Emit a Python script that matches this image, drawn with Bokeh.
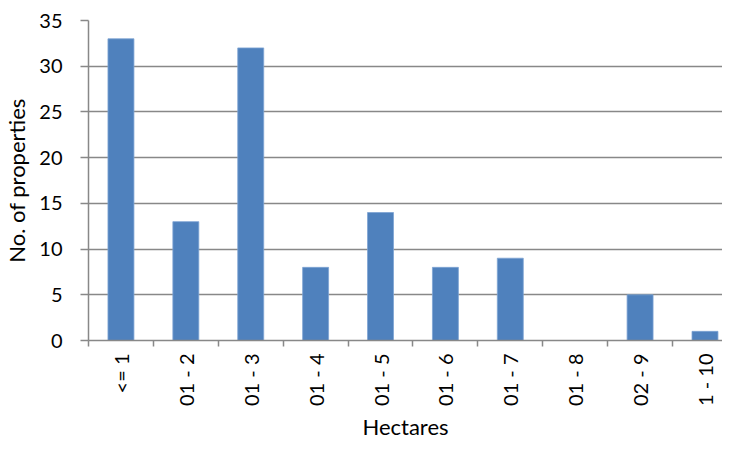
import math
from bokeh.plotting import figure
from bokeh.models import Range1d, FixedTicker, ColumnDataSource
from bokeh.embed import file_html
from bokeh.resources import INLINE

categories = ["<= 1", "01 - 2", "01 - 3", "01 - 4", "01 - 5", "01 - 6", "01 - 7", "01 - 8", "02 - 9", "1 - 10"]
values = [33, 13, 32, 8, 14, 8, 9, 0, 5, 1]
y_ticks = [0, 5, 10, 15, 20, 25, 30, 35]

FONT = "Lato"
GRID = "#888888"

positions = [i + 0.5 for i in range(len(categories))]
src = ColumnDataSource(dict(x=positions, top=values, cat=categories))

p = figure(width=722, height=442, output_backend="svg", toolbar_location=None,
           x_range=Range1d(0, 9.77), y_range=Range1d(0, 35),
           min_border_left=79, min_border_right=0, min_border_top=20, min_border_bottom=93)
p.outline_line_color = None
p.background_fill_color = "white"

p.vbar(x="x", top="top", width=0.4, source=src, fill_color="#4F81BD", line_color="#7EA3D3", line_width=0.8)

# x axis
p.xaxis.ticker = FixedTicker(ticks=positions, minor_ticks=list(range(len(categories) + 1)))
p.xaxis.major_label_overrides = {pos: c for pos, c in zip(positions, categories)}
p.xaxis.major_label_orientation = math.pi / 2
p.xaxis.major_tick_out = 0
p.xaxis.major_tick_in = 0
p.xaxis.minor_tick_out = 6
p.xaxis.minor_tick_in = 0
p.xaxis.minor_tick_line_color = GRID
p.xaxis.minor_tick_line_width = 1.5
p.xaxis.major_label_standoff = 7
p.xaxis.axis_label = "Hectares"
p.xaxis.axis_label_standoff = 4

# y axis
p.yaxis.ticker = FixedTicker(ticks=y_ticks)
p.yaxis.major_tick_out = 8
p.yaxis.major_tick_in = 0
p.yaxis.minor_tick_line_color = None
p.yaxis.major_tick_line_color = GRID
p.yaxis.major_tick_line_width = 1.5
p.yaxis.major_label_standoff = 18
p.yaxis.axis_label = "No. of properties"
p.yaxis.axis_label_standoff = 6

for ax in (p.xaxis, p.yaxis):
    ax.axis_line_color = GRID
    ax.axis_line_width = 1.5
    ax.major_label_text_font = FONT
    ax.major_label_text_font_size = "20px"
    ax.major_label_text_color = "#000000"
    ax.axis_label_text_font = FONT
    ax.axis_label_text_font_size = "22px"
    ax.axis_label_text_font_style = "normal"
    ax.axis_label_text_color = "#000000"

p.xgrid.grid_line_color = None
p.ygrid.ticker = FixedTicker(ticks=y_ticks)
p.ygrid.grid_line_color = GRID
p.ygrid.grid_line_width = 1.5

open("out.html", "w").write(file_html(p, INLINE))
